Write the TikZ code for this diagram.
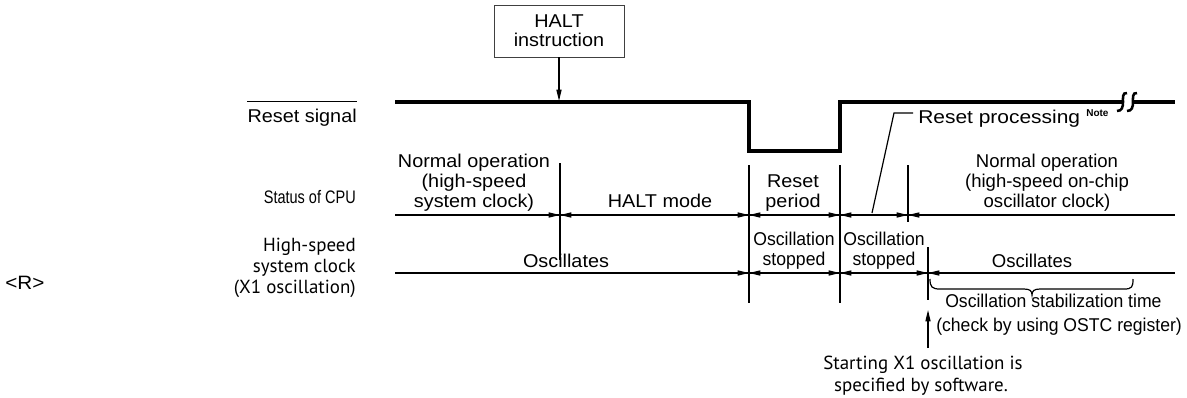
\documentclass[tikz,border=0pt]{standalone}
\usepackage{fontspec}
\setmainfont{Liberation Sans}
\newfontfamily\fN[FakeStretch=1.07]{Liberation Sans}
\newfontfamily\fE{Liberation Sans}
\newfontfamily\fS[FakeStretch=0.95]{Liberation Sans}
\newfontfamily\fC[FakeStretch=0.8]{Liberation Sans}
\newfontfamily\fW[FakeStretch=1.13]{Liberation Sans}
\newfontfamily\fM{PT Sans}
\usetikzlibrary{arrows.meta}
\tikzset{
  lbl/.style={inner sep=0pt, anchor=base, font=\fN\fontsize{13.9}{15}\selectfont},
  lblE/.style={lbl, font=\fE\fontsize{13.9}{15}\selectfont},
  lblS/.style={lbl, font=\fS\fontsize{13.9}{15}\selectfont},
  lblC/.style={lbl, font=\fC\fontsize{13.6}{15}\selectfont},
  lblW/.style={lbl, font=\fW\fontsize{13.9}{15}\selectfont},
  lblM/.style={lbl, font=\fM\fontsize{14.2}{15}\selectfont},
  thin line/.style={line width=0.9pt},
  signal/.style={line width=2.7pt},
  dimarrow/.style={line width=0.9pt, -{Triangle[length=8.5pt,width=3.8pt]}},
  haltbox/.style={draw=black!75, line width=0.7pt, minimum width=97.5pt, minimum height=39pt, inner sep=0pt, align=center, font=\fN\fontsize{13.9}{14.3}\selectfont},
}
\begin{document}
\begin{tikzpicture}[x=0.75pt,y=-0.75pt]
\useasboundingbox (0,0) rectangle (1187,397);

% ---------- left labels ----------
\node[lbl, anchor=base east] (rs) at (357,122) {Reset signal};
\draw[line width=0.7pt] ([yshift=5pt]rs.north west) -- ([yshift=5pt]rs.north east);
\node[lblC, anchor=base east] (cpu) at (356,203) {Status of CPU};
\node[lblM, anchor=base east] (hs1) at (356,251) {High-speed};
\node[lblM, anchor=base east] (hs2) at (356,272) {system clock};
\node[lblM, anchor=base east] (hs3) at (356,293) {(X1 oscillation)};
\node[lbl, anchor=base west, font=\fN\fontsize{14.5}{15}\selectfont] (rmark) at (5,289) {<R>};

% ---------- HALT instruction ----------
\node[haltbox] (halt) at (559,31) {HALT\\instruction};
\coordinate (haltin) at (559,101);
\draw[dimarrow] (halt.south) -- (haltin);

% ---------- reset signal ----------
\coordinate (r0) at (395,102);
\coordinate (r1) at (749,102);
\coordinate (r2) at (749,151);
\coordinate (r3) at (840,151);
\coordinate (r4) at (840,102);
\coordinate (r5) at (1122,102);
\coordinate (r6) at (1133,102);
\coordinate (r7) at (1175,102);
\draw[signal, line join=miter] (r0) -- (r1) -- (r2) -- (r3) -- (r4) -- (r5);
\draw[signal] (r6) -- (r7);
% break mark
\draw[line width=1.9pt] (1127,93) .. controls (1122,92) and (1123,99) .. (1123,102) .. controls (1123,107) and (1122,111) .. (1117,111);
\draw[line width=1.9pt] (1137,93) .. controls (1132,92) and (1133,99) .. (1133,102) .. controls (1133,107) and (1132,111) .. (1127,111);

% ---------- status of CPU line ----------
\coordinate (s0) at (395,215);
\coordinate (s1) at (1175,215);
\draw[thin line] (s0) -- (s1);
% ---------- clock line ----------
\coordinate (c0) at (395,273);
\coordinate (c1) at (1175,273);
\draw[thin line] (c0) -- (c1);

% ---------- vertical markers ----------
\draw[thin line] (560,163) -- (560,260);
\draw[thin line] (749,165) -- (749,303);
\draw[thin line] (840,165) -- (840,303);
\draw[thin line] (908,165) -- (908,222);
\draw[thin line] (928,247) -- (928,300);

% dimension arrows on status line
\foreach \x in {560,749,840,908} {
  \draw[dimarrow] ({\x-17},215) -- (\x,215);
  \draw[dimarrow] ({\x+17},215) -- (\x,215);
}
% dimension arrows on clock line
\foreach \x in {749,840,928} {
  \draw[dimarrow] ({\x-17},273) -- (\x,273);
  \draw[dimarrow] ({\x+17},273) -- (\x,273);
}

% ---------- CPU status texts ----------
\node[lbl] (n1) at (474,167) {Normal operation};
\node[lbl] (n2) at (474,187) {(high-speed};
\node[lbl] (n3) at (474,207) {system clock)};
\node[lbl] (hm) at (660,207) {HALT mode};
\node[lbl] (rp1) at (793,187) {Reset};
\node[lbl] (rp2) at (793,207) {period};
\node[lblE] (m1) at (1047,167) {Normal operation};
\node[lblE] (m2) at (1047,187) {(high-speed on-chip};
\node[lblE] (m3) at (1047,207) {oscillator clock)};

% reset processing
\node[lblW, anchor=base west] (rproc) at (918,123) {Reset processing};
\node[inner sep=0pt, anchor=base west, font=\fE\bfseries\fontsize{7.5}{8}\selectfont] (note) at (1086,116) {Note};
\coordinate (lead0) at (872,213);
\coordinate (lead1) at (894,113);
\coordinate (lead2) at (913,113);
\draw[thin line] (lead0) -- (lead1) -- (lead2);

% ---------- clock texts ----------
\node[lbl] (os1) at (566,267) {Oscillates};
\node[lblS] (st1) at (794,245) {Oscillation};
\node[lblS] (st2) at (794,265) {stopped};
\node[lblS] (st3) at (884,245) {Oscillation};
\node[lblS] (st4) at (884,265) {stopped};
\node[lblE] (os2) at (1032,267) {Oscillates};

% brace
\draw[thin line] (930,279) .. controls (930,287) and (932,289) .. (940,289) -- (1024,289) .. controls (1030,289) and (1032,291) .. (1032,295) .. controls (1032,291) and (1034,289) .. (1040,289) -- (1124,289) .. controls (1132,289) and (1133,287) .. (1133,279);
\node[lblS, anchor=base west] (ost1) at (945,307) {Oscillation stabilization time};
\node[lblS, anchor=base west] (ost2) at (936,331) {(check by using OSTC register)};

% start arrow
\coordinate (up0) at (928,348);
\coordinate (up1) at (928,310);
\draw[dimarrow] (up0) -- (up1);
\node[lblM] (sx1) at (923,369) {Starting X1 oscillation is};
\node[lblM] (sx2) at (921,391) {specified by software.};
\end{tikzpicture}
\end{document}
